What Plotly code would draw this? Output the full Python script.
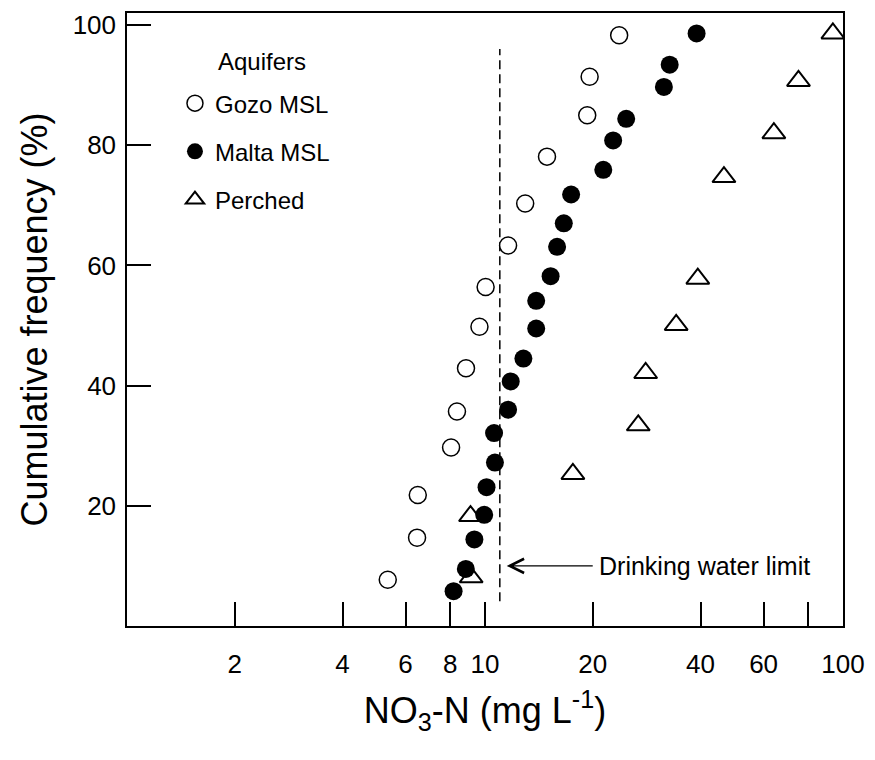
import numpy as np
import plotly.graph_objects as go

# ---- data ----
gozo_x = [5.35, 6.46, 6.49, 8.04, 8.35, 8.85, 9.65, 10.04, 11.6, 12.95, 14.9, 19.3, 19.6, 23.7]
gozo_y = [7.7, 14.7, 21.8, 29.7, 35.7, 42.9, 49.8, 56.4, 63.3, 70.3, 78.1, 85.0, 91.4, 98.3]

malta_x = [8.17, 8.84, 9.34, 9.95, 10.1, 10.66, 10.6, 11.6, 11.8, 12.8, 13.9, 13.9,
           15.25, 15.9, 16.6, 17.4, 21.4, 22.8, 24.8, 31.6, 32.8, 39.0]
malta_y = [5.8, 9.5, 14.4, 18.5, 23.1, 27.2, 32.1, 36.0, 40.7, 44.5, 49.5, 54.1,
           58.2, 63.1, 67.0, 71.8, 75.9, 80.8, 84.4, 89.7, 93.4, 98.6]

perched_x = [9.15, 9.11, 17.6, 26.8, 28.1, 34.2, 39.3, 46.5, 64.1, 75.1, 93.7]
perched_y = [8.1, 18.3, 25.3, 33.4, 42.1, 50.1, 57.8, 74.7, 82.0, 90.7, 98.6]

limit_x = 11.0
limit_y = [4.1, 96.0]
arrow_x = 11.5
arrow_y = 10.0

x_tickvals = [2, 4, 6, 8, 10, 20, 40, 60, 80, 100]
x_ticktext = ['2', '4', '6', '8', '10', '20', '40', '60', '', '100']
y_tickvals = [20, 40, 60, 80, 100]

FONT = 'Liberation Sans, Arial, sans-serif'

fig = go.Figure()

fig.add_trace(go.Scatter(
    x=[limit_x, limit_x], y=limit_y, mode='lines',
    line=dict(color='black', width=1.5, dash='9px,5px'),
    showlegend=False, hoverinfo='skip'))

fig.add_trace(go.Scatter(
    x=perched_x, y=perched_y, mode='markers', name='Perched',
    marker=dict(symbol='triangle-up', size=20, color='white',
                line=dict(color='black', width=2)),
    legendgroup='c', legendrank=3))

fig.add_trace(go.Scatter(
    x=gozo_x, y=gozo_y, mode='markers', name='Gozo MSL',
    marker=dict(symbol='circle', size=17, color='white',
                line=dict(color='black', width=1.5)),
    legendgroup='a', legendrank=1))

fig.add_trace(go.Scatter(
    x=malta_x, y=malta_y, mode='markers', name='Malta MSL',
    marker=dict(symbol='circle', size=18, color='black',
                line=dict(color='black', width=0)),
    legendgroup='b', legendrank=2))

fig.add_annotation(
    x=np.log10(arrow_x), y=arrow_y, xref='x', yref='y',
    text='Drinking water limit', showarrow=True,
    ax=198, ay=0, arrowhead=5, arrowsize=2, arrowwidth=1.4,
    arrowcolor='black', borderpad=6,
    font=dict(family=FONT, size=25, color='black'))

# legend heading
fig.add_annotation(
    x=0.124, y=0.921, xref='paper', yref='paper',
    xanchor='left', yanchor='middle', showarrow=False,
    text='Aquifers', font=dict(family=FONT, size=24, color='black'))

axis_common = dict(
    ticks='inside', ticklen=24, tickwidth=1.5, tickcolor='black',
    showline=True, linecolor='black', linewidth=1.5, mirror=True,
    showgrid=False, zeroline=False,
    tickfont=dict(family=FONT, size=26, color='black'),
)

fig.update_layout(
    width=875, height=760,
    margin=dict(l=127, r=22, t=10, b=134),
    paper_bgcolor='white', plot_bgcolor='white',
    font=dict(family=FONT, color='black'),
    xaxis=dict(type='log', range=[0, 2], tickmode='array',
               tickvals=x_tickvals, ticktext=x_ticktext,
               ticklabelstandoff=14,
               title=dict(text='NO<sub>3</sub>-N (mg L<sup>-1</sup>)',
                          font=dict(family=FONT, size=36), standoff=20),
               **axis_common),
    yaxis=dict(range=[0, 102], tickmode='array', tickvals=y_tickvals,
               ticklabelstandoff=4,
               title=dict(text='Cumulative frequency (%)',
                          font=dict(family=FONT, size=36), standoff=14),
               **axis_common),
    legend=dict(x=0.067, y=0.889, xanchor='left', yanchor='top',
                bgcolor='rgba(0,0,0,0)', borderwidth=0,
                font=dict(family=FONT, size=24, color='black'),
                tracegroupgap=14, itemsizing='trace', traceorder='grouped'),
)

fig.write_html('out.html')
